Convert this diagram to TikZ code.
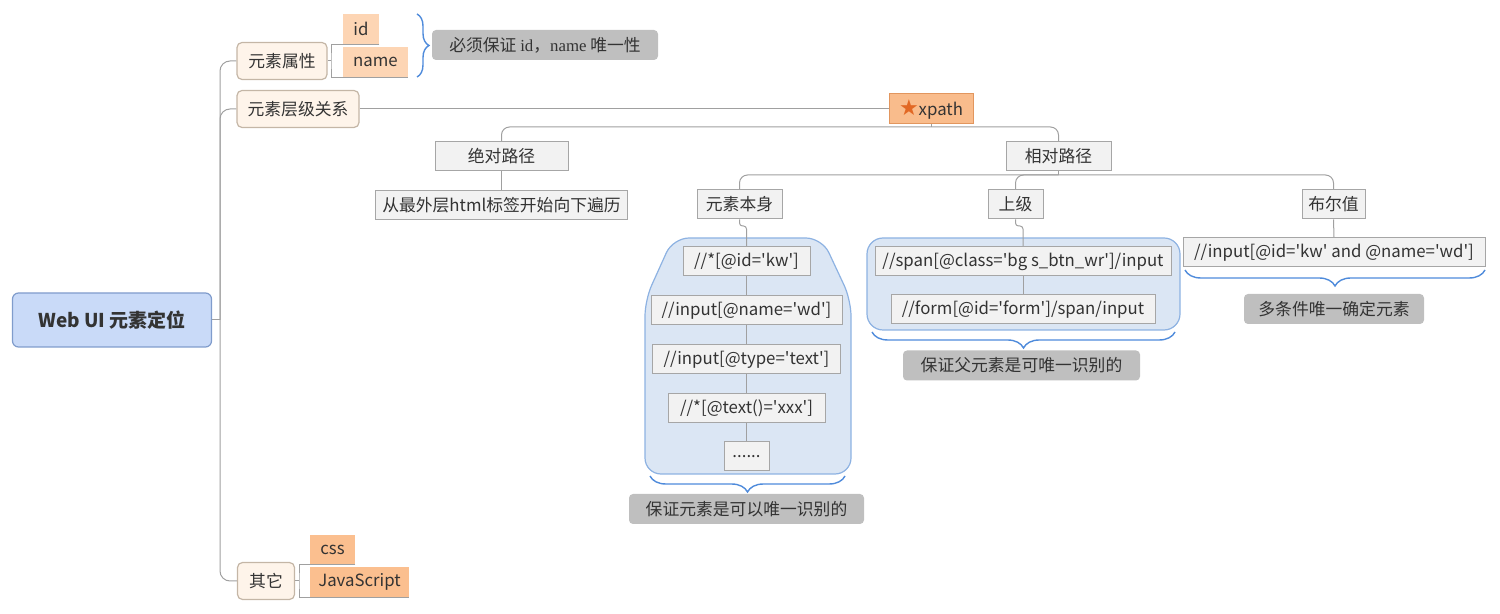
\documentclass[tikz,border=0pt]{standalone}
\usepackage{fontspec}
\usepackage{xcolor}
\usepackage{tikz}
\usetikzlibrary{positioning, decorations.pathreplacing, backgrounds}
\newfontfamily\uifont{Noto Sans CJK SC}
\newfontfamily\seriffont{Liberation Serif}
\newfontfamily\symfont{DejaVu Sans}
\definecolor{textcol}{RGB}{51, 51, 51}
\definecolor{rootfill}{RGB}{201, 218, 248}
\definecolor{rootdraw}{RGB}{128, 156, 204}
\definecolor{topfill}{RGB}{254, 244, 234}
\definecolor{topdraw}{RGB}{196, 182, 166}
\definecolor{leaffill}{RGB}{242, 242, 242}
\definecolor{leafdraw}{RGB}{166, 166, 166}
\definecolor{peach}{RGB}{253, 213, 180}
\definecolor{apricot}{RGB}{251, 191, 143}
\definecolor{xpathfill}{RGB}{249, 188, 140}
\definecolor{xpathdraw}{RGB}{226, 150, 94}
\definecolor{starcol}{RGB}{226, 104, 36}
\definecolor{notefill}{RGB}{191, 191, 191}
\definecolor{boundfill}{RGB}{219, 230, 244}
\definecolor{bounddraw}{RGB}{141, 178, 226}
\definecolor{bracecol}{RGB}{79, 139, 219}
\definecolor{linecol}{RGB}{160, 160, 160}
\pgfdeclarelayer{boundary}
\pgfdeclarelayer{lines}
\pgfsetlayers{boundary,lines,main}

\begin{document}
\begin{tikzpicture}[
    x=0.5pt, y=-0.5pt,
    ui/.style={inner xsep=2pt, inner ysep=1pt, font=\uifont\fontsize{8.4}{10}\selectfont, text=textcol, align=center},
    rootnode/.style={ui, draw=rootdraw, fill=rootfill, rounded corners=3pt, minimum width=99.5pt, minimum height=27pt, line width=0.6pt, font=\uifont\bfseries\fontsize{9.5}{11}\selectfont},
    topic/.style={ui, draw=topdraw, fill=topfill, rounded corners=2.5pt, minimum height=18.5pt, line width=0.6pt},
    leaf/.style={ui, draw=leafdraw, fill=leaffill, minimum height=14.5pt, line width=0.5pt},
    tag/.style={ui, fill=#1, minimum height=15pt},
    note/.style={ui, fill=notefill, rounded corners=2pt, minimum height=15pt},
    conn/.style={draw=linecol, line width=0.5pt},
    bracebl/.style={decorate, decoration={brace, amplitude=#1}, draw=bracecol, line width=0.7pt},
    groupbox/.style={draw=bounddraw, fill=boundfill, line width=0.6pt, rounded corners=8pt}
]
    \useasboundingbox (0,0) rectangle (1500,614);

    % Root and first level
    \node[rootnode] (root) at (112,320) {Web UI 元素定位};
    \node[topic, minimum width=45pt] (attr) at (282,61) {元素属性};
    \node[topic, minimum width=61pt] (level) at (298,109) {元素层级关系};
    \node[topic, minimum width=28.5pt] (other) at (266,581) {其它};

    % Attribute and other tags
    \node[tag=peach, minimum width=18pt] (id) at (361,29) {id};
    \node[tag=peach, minimum width=32.5pt] (name) at (375.5,62) {name};
    \node[tag=apricot, minimum width=22.5pt, minimum height=14.5pt] (css) at (332.5,549.5) {css};
    \node[tag=apricot, minimum width=49.5pt] (js) at (359.5,582) {JavaScript};
    \node[note, minimum width=113pt] (uniq) at (545,45) {必须保证 {\seriffont id}，{\seriffont name} 唯一性};

    % xpath tree
    \node[ui, draw=xpathdraw, fill=xpathfill, minimum width=42pt, minimum height=15pt, line width=0.5pt] (xpath) at (931,109) {{\symfont\fontsize{11}{10}\selectfont\textcolor{starcol}{★}}xpath};
    \node[leaf, minimum width=66.5pt] (abs) at (501.5,156.5) {绝对路径};
    \node[leaf, minimum width=126pt, below=9.5pt of abs] (absdesc) {从最外层html标签开始向下遍历};
    \node[leaf, minimum width=52.5pt] (relpath) at (1058.5,156.5) {相对路径};
    \node[leaf, minimum width=42.5pt] (self) at (739.5,204.5) {元素本身};
    \node[leaf, minimum width=27.5pt] (parent) at (1015.5,204.5) {上级};
    \node[leaf, minimum width=31.5pt] (bool) at (1333.5,204.5) {布尔值};

    % Element itself
    \node[leaf, minimum width=63.5pt] (self1) at (746.5,261.5) {//*[@id='kw']};
    \node[leaf, minimum width=95.5pt, below=9.5pt of self1] (self2) {//input[@name='wd']};
    \node[leaf, minimum width=94pt, below=9.5pt of self2] (self3) {//input[@type='text']};
    \node[leaf, minimum width=78.5pt, below=9.5pt of self3] (self4) {//*[@text()='xxx']};
    \node[leaf, minimum width=22.5pt, below=9pt of self4] (self5) {......};

    % Parent level
    \node[leaf, minimum width=148pt] (par1) at (1023,261.5) {//span[@class='bg s\_btn\_wr']/input};
    \node[leaf, minimum width=132pt, below=9pt of par1] (par2) {//form[@id='form']/span/input};

    % Boolean
    \node[leaf, minimum width=151pt] (bool1) at (1334,252.5) {//input[@id='kw' and @name='wd']};

    % Notes
    \node[note, minimum width=117.5pt] (selfnote) at (746.5,509) {保证元素是可以唯一识别的};
    \node[note, minimum width=118.5pt] (parnote) at (1021.5,365.5) {保证父元素是可唯一识别的};
    \node[note, minimum width=90pt] (boolnote) at (1334,309) {多条件唯一确定元素};

    % Joints
    \coordinate (trunk) at (220,320);
    \coordinate (attrj) at (331,61);
    \coordinate (otherj) at (299,581);
    \coordinate (xpathj) at (931,127);
    \coordinate (relj) at (1058.5,175);
    \coordinate (selfj) at (739.5,226);
    \coordinate (parj) at (1015.5,226);

    % Connectors
    \begin{pgfonlayer}{lines}
    \draw[conn] (root.east) -- (trunk);
    \draw[conn, rounded corners=5pt] (attr.west) -| (trunk) |- (other.west);
    \draw[conn, rounded corners=5pt] (level.west) -| (trunk);
    \draw[conn] (attr.east) -- (attrj);
    \draw[conn] (id.south east) -| (attrj) |- (name.south east);
    \draw[conn] (other.east) -- (otherj);
    \draw[conn] (css.south east) -| (otherj) |- (js.south east);
    \draw[conn] (level.east) -- (xpath.west);
    \draw[conn] (xpath.south) -- (xpathj);
    \draw[conn, rounded corners=4pt] (abs.north) |- (xpathj) -| (relpath.north);
    \draw[conn] (abs.south) -- (absdesc.north);
    \draw[conn] (relpath.south) -- (relj);
    \draw[conn, rounded corners=4pt] (self.north) |- (relj) -| (bool.north);
    \draw[conn, rounded corners=4pt] (parent.north) |- (relj);
    \draw[conn, rounded corners=1.5pt] (self.south) -- (selfj) -| (self1.north);
    \foreach \a/\b in {self1/self2, self2/self3, self3/self4, self4/self5}
        \draw[conn] (\a) -- (\b);
    \draw[conn, rounded corners=1.5pt] (parent.south) -- (parj) -| (par1.north);
    \draw[conn] (par1) -- (par2);
    \draw[conn] (bool.south) -- (bool1.north);
    \end{pgfonlayer}

    % Boundaries
    \begin{pgfonlayer}{boundary}
    \draw[groupbox] (645,300) -- (673,238) -- (822,238) -- (851,300) -- (851,474) -- (645,474) -- cycle;
    \draw[groupbox] (867,238) rectangle (1180,330);
    \end{pgfonlayer}

    % Braces
    \draw[bracebl=6pt] (417,14) -- (417,77);
    \draw[bracebl=8pt] (845,476) -- (650,476);
    \draw[bracebl=8pt] (1175,332) -- (872,332);
    \draw[bracebl=8pt] (1485,270) -- (1185,270);
\end{tikzpicture}
\end{document}
